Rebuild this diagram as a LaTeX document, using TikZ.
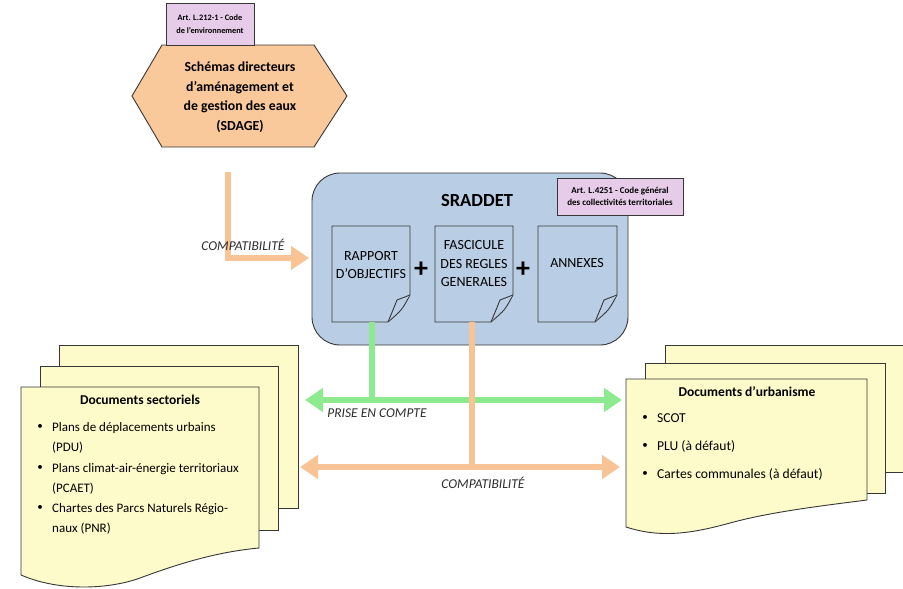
\documentclass[tikz,border=0pt]{standalone}
\usepackage{fontspec}
\setmainfont{Carlito}
\usetikzlibrary{arrows.meta}
\definecolor{hexfill}{RGB}{249,201,156}
\definecolor{purp}{RGB}{230,204,233}
\definecolor{sradfill}{RGB}{185,205,228}
\definecolor{pagefill}{RGB}{253,251,202}
\definecolor{arrorange}{RGB}{248,196,150}
\definecolor{arrgreen}{RGB}{142,234,142}
\definecolor{edge}{RGB}{55,55,55}
\definecolor{labtext}{RGB}{45,45,45}
\newcommand\foldpage[4]{%
  \draw[docpage] (#1,#2) -- (#3,#2) -- (#3,#4-27) .. controls (#3-8,#4-12) .. (#3-22,#4) -- (#1,#4) -- cycle;
  \draw[docpage] (#3,#4-27) .. controls (#3-6,#4-25) .. (#3-13,#4-22) .. controls (#3-17,#4-12) .. (#3-22,#4);
}
\begin{document}
\begin{tikzpicture}[x=1pt,y=-1pt,
  >={Triangle[length=18pt,width=23pt]},
  outline/.style={draw=edge,line width=0.9pt},
  docpage/.style={outline,fill=sradfill},
  paper/.style={outline,fill=pagefill},
  artbox/.style={outline,fill=purp,align=center,inner sep=1pt,font=\fontsize{8.3}{13}\selectfont\bfseries},
  doctext/.style={align=center,font=\fontsize{14}{18.5}\selectfont},
  plus/.style={font=\fontsize{28}{28}\selectfont\bfseries},
  body/.style={anchor=base west,inner sep=0pt,font=\fontsize{13}{15}\selectfont},
  rbody/.style={body,font=\fontsize{13.6}{15}\selectfont},
  bul/.style={inner sep=0pt,font=\fontsize{11}{13}\selectfont},
  ttl/.style={inner sep=0pt,font=\fontsize{13.5}{15}\selectfont\bfseries},
  lab/.style={inner sep=0pt,text=labtext,font=\fontsize{13.5}{15}\selectfont\itshape},
  orangeline/.style={draw=arrorange,line width=6pt},
  greenline/.style={draw=arrgreen,line width=6pt}
]
\useasboundingbox (0,0) rectangle (903,589);
\fill[white] (0,0) rectangle (903,589);

% ---- SDAGE hexagon
\draw[outline,fill=hexfill] (132,96) -- (162,45) -- (314,45) -- (347,96) -- (314,147) -- (162,147) -- cycle;
\node[align=center,font=\fontsize{13.8}{19.5}\selectfont\bfseries] (sdage) at (240,97)
  {Schémas directeurs\\d’aménagement et\\de gestion des eaux\\(SDAGE)};
\node[artbox,minimum width=88pt,minimum height=42pt] (art1) at (210,24) {Art. L.212-1 - Code\\de l’environnement};

% ---- SRADDET box
\draw[outline,fill=sradfill,rounded corners=28pt] (312,173) rectangle (628,345);
\node[font=\fontsize{18.5}{20}\selectfont\bfseries] (sraddet) at (477,200) {SRADDET};
\node[artbox,minimum width=126pt,minimum height=37pt,font=\fontsize{9}{11.5}\selectfont\bfseries] (art2) at (620,196.5)
  {Art. L.4251 - Code général\\des collectivités territoriales};

\foldpage{332}{226}{410}{322}
\foldpage{435}{226}{513}{322}
\foldpage{538}{226}{617}{322}
\node[doctext] (rapport) at (371,265) {RAPPORT\\D’OBJECTIFS};
\node[doctext] (fascicule) at (474,264) {FASCICULE\\DES REGLES\\GENERALES};
\node[doctext] (annexes) at (577,263) {ANNEXES};
\node[plus] (plus1) at (421,270) {+};
\node[plus] (plus2) at (523,270) {+};

% ---- left document stack
\draw[paper] (59,345) rectangle (298,508);
\draw[paper] (40,366) rectangle (278,530);
\draw[paper] (21,387) -- (259,387) -- (259,548) .. controls (215,552) and (175,565) .. (140,578)
  .. controls (110,589) and (60,592) .. (21,575) -- cycle;
\node[ttl] (sect) at (140,400) {Documents sectoriels};
\node[bul] (b1) at (40,427) {•};
\node[body] (l1) at (52,431) {Plans de déplacements urbains};
\node[body] (l2) at (52,451) {(PDU)};
\node[bul] (b2) at (40,468) {•};
\node[body] (l3) at (52,472) {Plans climat-air-énergie territoriaux};
\node[body] (l4) at (52,492) {(PCAET)};
\node[bul] (b3) at (40,508) {•};
\node[body] (l5) at (52,512) {Chartes des Parcs Naturels Régio-};
\node[body] (l6) at (52,532) {naux (PNR)};

% ---- right document stack
\draw[paper] (912,345) -- (665,345) -- (665,472) -- (912,472);
\draw[paper] (645,363) rectangle (885,493);
\draw[paper] (626,379) -- (867,379) -- (867,500) .. controls (820,506) and (770,512) .. (730,523)
  .. controls (690,534) and (660,538) .. (626,527) -- cycle;
\node[ttl] (urba) at (747,392) {Documents d’urbanisme};
\node[bul] (r1) at (645,418) {•};
\node[rbody] (m1) at (657,422) {SCOT};
\node[bul] (r2) at (645,446) {•};
\node[rbody] (m2) at (657,450) {PLU (à défaut)};
\node[bul] (r3) at (645,474) {•};
\node[rbody] (m3) at (657,478) {Cartes communales (à défaut)};

% ---- connectors
\coordinate (sdtop) at (228,172);
\coordinate (sradin) at (309,258);
\draw[orangeline,->] (sdtop) |- (sradin);
\node[lab] (compat1) at (243,245) {COMPATIBILITÉ};

\coordinate (d1bot) at (372,322);
\coordinate (gjoin) at (372,400);
\coordinate (gL) at (305,400);
\coordinate (gR) at (622,400);
\draw[greenline] (d1bot) -- (gjoin);
\draw[greenline,<->] (gL) -- (gR);
\node[lab] (prise) at (377,413) {PRISE EN COMPTE};

\coordinate (d2bot) at (472,322);
\coordinate (ojoin) at (472,467);
\coordinate (oL) at (300,467);
\coordinate (oR) at (620,467);
\draw[orangeline] (d2bot) -- (ojoin);
\draw[orangeline,<->] (oL) -- (oR);
\node[lab] (compat2) at (483,483) {COMPATIBILITÉ};
\end{tikzpicture}
\end{document}
